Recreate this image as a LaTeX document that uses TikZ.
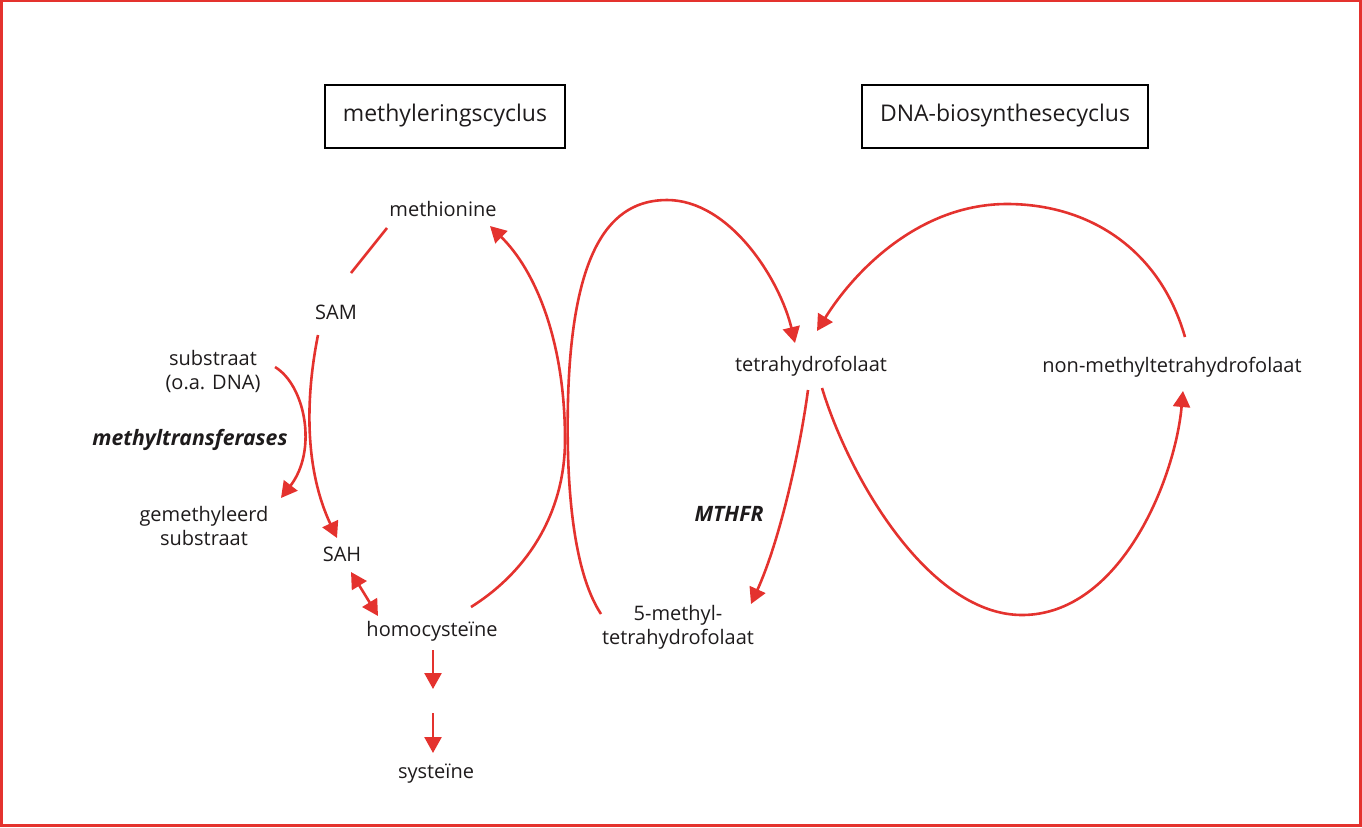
\documentclass[tikz,border=0pt]{standalone}
\usepackage{fontspec}
\setmainfont{Open Sans}
\usepackage{xcolor}
\usepackage{tikz}
\usetikzlibrary{positioning, arrows.meta, calc}

\definecolor{cycred}{RGB}{228,50,46}
\definecolor{inkgray}{RGB}{30,27,28}

\begin{document}
\begin{tikzpicture}[x=0.5pt,y=-0.5pt,>={Triangle[length=8pt,width=8.5pt]},
    font=\fontsize{10}{12}\selectfont, text=inkgray,
    cyclebox/.style={draw=black, line width=1pt, font=\fontsize{11.5}{13}\selectfont, minimum height=31.5pt, inner xsep=9pt},
    flow/.style={draw=cycred, line width=1.3pt},
    stof/.style={align=center, inner sep=1pt},
    enzyme/.style={stof, font=\fontsize{10.6}{12}\selectfont\bfseries\itshape}]
        \useasboundingbox (0,0) rectangle (1362,827);
        \draw[cycred, line width=1.1pt] (1.5,1) rectangle (1360.5,825.5);

        % Nodes
        \node (mcyc) [cyclebox] at (445,116) {methyleringscyclus};
        \node (dcyc) [cyclebox] at (1005,116) {DNA-biosynthesecyclus};

        \node (met) [stof] at (443,209) {methionine};
        \node (sam) [stof] at (336,312) {SAM};
        \node (sub) [stof] at (213,371) {substraat\\(o.a. DNA)};
        \node (mtr) [enzyme] at (190,440) {methyltransferases};
        \node (gem) [stof] at (204,526) {gemethyleerd\\substraat};
        \node (sah) [stof] at (342,554) {SAH};
        \node (hcy) [stof] at (432,631) {homocyste\"ine};
        \coordinate (cysa) at (433,689);
        \coordinate (cysb) at (433,713);
        \node (sys) [stof] at (436,774) {syste\"ine};

        \node (thf) [stof] at (811,366) {tetrahydrofolaat};
        \node (nmthf) [stof] at (1172,367) {non-methyltetrahydrofolaat};
        \node (enz) [enzyme] at (729,514) {MTHFR};
        \node (mthf) [stof] at (678,627) {5-methyl-\\tetrahydrofolaat};

        % Arrows, methylation side
        \draw[flow] ($(met)+(-56,19)$) -- ($(sam)+(15,-39)$);
        \draw[flow,->] ($(sam)+(-18,23)$) .. controls (305,400) and (305,470) .. ($(sah)+(-5,-16)$);
        \draw[flow,->] ($(sub)+(62,-4)$) .. controls (305,385) and (318,450) .. ($(gem)+(77,-28)$);
        \draw[flow,<->] ($(sah)+(9,18)$) -- ($(hcy)+(-54,-15)$);
        \draw[flow,->] ($(hcy)+(1,19)$) -- (cysa);
        \draw[flow,->] (cysb) -- ($(sys)+(-3,-21)$);
        \draw[flow,->] ($(hcy)+(39,-24)$) .. controls (530,570) and (565,510) .. (565,440)
            .. controls (565,340) and (535,270) .. ($(met)+(47,17)$);

        % Arrows, folate side
        \draw[flow,->] ($(mthf)+(-77,-13)$) .. controls (572,570) and (566,480) .. (568,400)
            .. controls (572,250) and (610,200) .. (667,200)
            .. controls (730,200) and (780,280) .. ($(thf)+(-16,-23)$);
        \draw[flow,->] ($(thf)+(-3,24)$) .. controls (800,450) and (780,540) .. ($(mthf)+(73,-23)$);
        \draw[flow,->] ($(thf)+(11,22)$) .. controls (850,480) and (930,615) .. (1022,615)
            .. controls (1120,615) and (1175,480) .. ($(nmthf)+(11,24)$);
        \draw[flow,->] ($(nmthf)+(13,-30)$) .. controls (1160,250) and (1090,204) .. (1007,204)
            .. controls (920,204) and (855,270) .. ($(thf)+(6,-35)$);

    \end{tikzpicture}
\end{document}
